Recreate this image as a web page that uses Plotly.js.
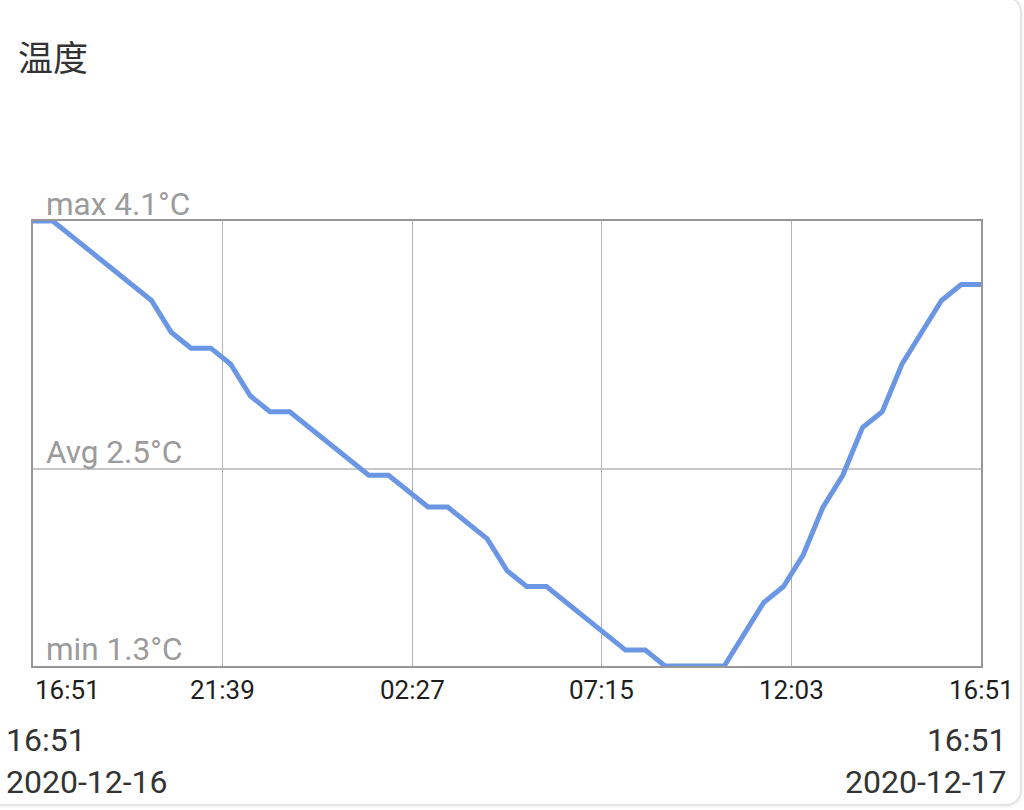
<!DOCTYPE html>
<html>
<head>
<meta charset="utf-8">
<script src="https://cdn.plot.ly/plotly-3.0.1.min.js"></script>
<style>
  html, body { margin: 0; padding: 0; background: #ffffff; width: 1024px; height: 810px; overflow: hidden; }
  #wrap { position: relative; width: 1024px; height: 810px; }
  #chart { position: absolute; left: 0; top: 0; width: 1024px; height: 810px; }
  #card { position: absolute; left: -30px; top: -4px; width: 1048px; height: 806px;
          border: 2px solid #e4e4e4; border-radius: 16px; pointer-events: none;
          box-shadow: 1px 1px 3px rgba(0,0,0,0.06); }
</style>
</head>
<body>
<div id="wrap">
  <div id="chart"></div>
  <div id="card"></div>
</div>
<script>
// ---- data ----
const chartTitle = "温度";
const times = [
  "2020-12-16 16:51","2020-12-16 17:21","2020-12-16 17:51","2020-12-16 18:21","2020-12-16 18:51",
  "2020-12-16 19:21","2020-12-16 19:51","2020-12-16 20:21","2020-12-16 20:51","2020-12-16 21:21",
  "2020-12-16 21:51","2020-12-16 22:21","2020-12-16 22:51","2020-12-16 23:21","2020-12-16 23:51",
  "2020-12-17 00:21","2020-12-17 00:51","2020-12-17 01:21","2020-12-17 01:51","2020-12-17 02:21",
  "2020-12-17 02:51","2020-12-17 03:21","2020-12-17 03:51","2020-12-17 04:21","2020-12-17 04:51",
  "2020-12-17 05:21","2020-12-17 05:51","2020-12-17 06:21","2020-12-17 06:51","2020-12-17 07:21",
  "2020-12-17 07:51","2020-12-17 08:21","2020-12-17 08:51","2020-12-17 09:21","2020-12-17 09:51",
  "2020-12-17 10:21","2020-12-17 10:51","2020-12-17 11:21","2020-12-17 11:51","2020-12-17 12:21",
  "2020-12-17 12:51","2020-12-17 13:21","2020-12-17 13:51","2020-12-17 14:21","2020-12-17 14:51",
  "2020-12-17 15:21","2020-12-17 15:51","2020-12-17 16:21","2020-12-17 16:51"
];
const temperature = [
  4.1, 4.1, 4.0, 3.9, 3.8, 3.7, 3.6, 3.4, 3.3, 3.3,
  3.2, 3.0, 2.9, 2.9, 2.8, 2.7, 2.6, 2.5, 2.5, 2.4,
  2.3, 2.3, 2.2, 2.1, 1.9, 1.8, 1.8, 1.7, 1.6, 1.5,
  1.4, 1.4, 1.3, 1.3, 1.3, 1.3, 1.5, 1.7, 1.8, 2.0,
  2.3, 2.5, 2.8, 2.9, 3.2, 3.4, 3.6, 3.7, 3.7
];
const maxTemp = 4.1;
const minTemp = 1.3;
const avgTemp = 2.54;
const unit = "°C";
const tickVals = ["2020-12-16 16:51","2020-12-16 21:39","2020-12-17 02:27","2020-12-17 07:15","2020-12-17 12:03","2020-12-17 16:51"];
const tickText = ["16:51","21:39","02:27","07:15","12:03","16:51"];
const startLabel = ["16:51","2020-12-16"];
const endLabel = ["16:51","2020-12-17"];

// ---- styles ----
const lineColor = "#6b96e3";
const frameColor = "#969696";
const gridColor = "#b4b4b4";
const refTextColor = "#9b9b9b";
const latin = "Roboto, 'Noto Sans', sans-serif";

const trace = {
  x: times, y: temperature, type: "scatter", mode: "lines",
  line: { color: lineColor, width: 5, shape: "linear" },
  hoverinfo: "skip"
};

const annotations = [];
// reference labels (max / avg / min)
[["max", maxTemp], ["Avg", avgTemp], ["min", minTemp]].forEach(([name, v]) => {
  annotations.push({
    xref: "paper", x: 0, xanchor: "left", xshift: 11,
    yref: "y", y: v, yanchor: "bottom", yshift: -4,
    text: name + " " + v.toFixed(1) + unit, showarrow: false,
    font: { family: latin, size: 31.5, color: refTextColor }
  });
});
// x tick labels
tickVals.forEach((tv, i) => {
  annotations.push({
    xref: "x", x: tv, xanchor: i === 0 ? "left" : "center", xshift: 0,
    yref: "paper", y: 0, yanchor: "top", yshift: -7,
    text: tickText[i], showarrow: false,
    font: { family: latin, size: 26, color: "#1e1e1e" }
  });
});
// start / end labels
annotations.push({
  xref: "paper", x: 0, xanchor: "left", xshift: -29,
  yref: "paper", y: 0, yanchor: "top", yshift: -53,
  text: startLabel.join("<br>"), align: "left", showarrow: false,
  font: { family: latin, size: 32, color: "#333333" }
});
annotations.push({
  xref: "paper", x: 1, xanchor: "right", xshift: 28,
  yref: "paper", y: 0, yanchor: "top", yshift: -53,
  text: endLabel.join("<br>"), align: "right", showarrow: false,
  font: { family: latin, size: 32, color: "#333333" }
});

const layout = {
  width: 1024, height: 810,
  margin: { l: 33, r: 43, t: 221, b: 144, pad: 0 },
  paper_bgcolor: "#ffffff", plot_bgcolor: "#ffffff",
  showlegend: false,
  title: {
    text: chartTitle, xref: "container", yref: "container",
    x: 18 / 1024, xanchor: "left", y: 1 - 59 / 810, yanchor: "middle",
    font: { family: "'Noto Sans CJK SC', 'Noto Sans', sans-serif", size: 35, color: "#333333" }
  },
  xaxis: {
    type: "date", range: [times[0], times[times.length - 1]],
    tickvals: tickVals, ticktext: tickText, showticklabels: false, ticks: "",
    showgrid: true, gridcolor: gridColor, gridwidth: 1,
    showline: true, linecolor: frameColor, linewidth: 2, mirror: true,
    zeroline: false, fixedrange: true
  },
  yaxis: {
    range: [minTemp, maxTemp], showgrid: false, showticklabels: false, ticks: "",
    showline: true, linecolor: frameColor, linewidth: 2, mirror: true,
    zeroline: false, fixedrange: true
  },
  shapes: [{
    type: "line", xref: "paper", x0: 0, x1: 1, yref: "y", y0: avgTemp, y1: avgTemp,
    line: { color: gridColor, width: 1.5 }, layer: "below"
  }],
  annotations: annotations
};

Plotly.newPlot("chart", [trace], layout, { displayModeBar: false, staticPlot: true });
</script>
</body>
</html>
